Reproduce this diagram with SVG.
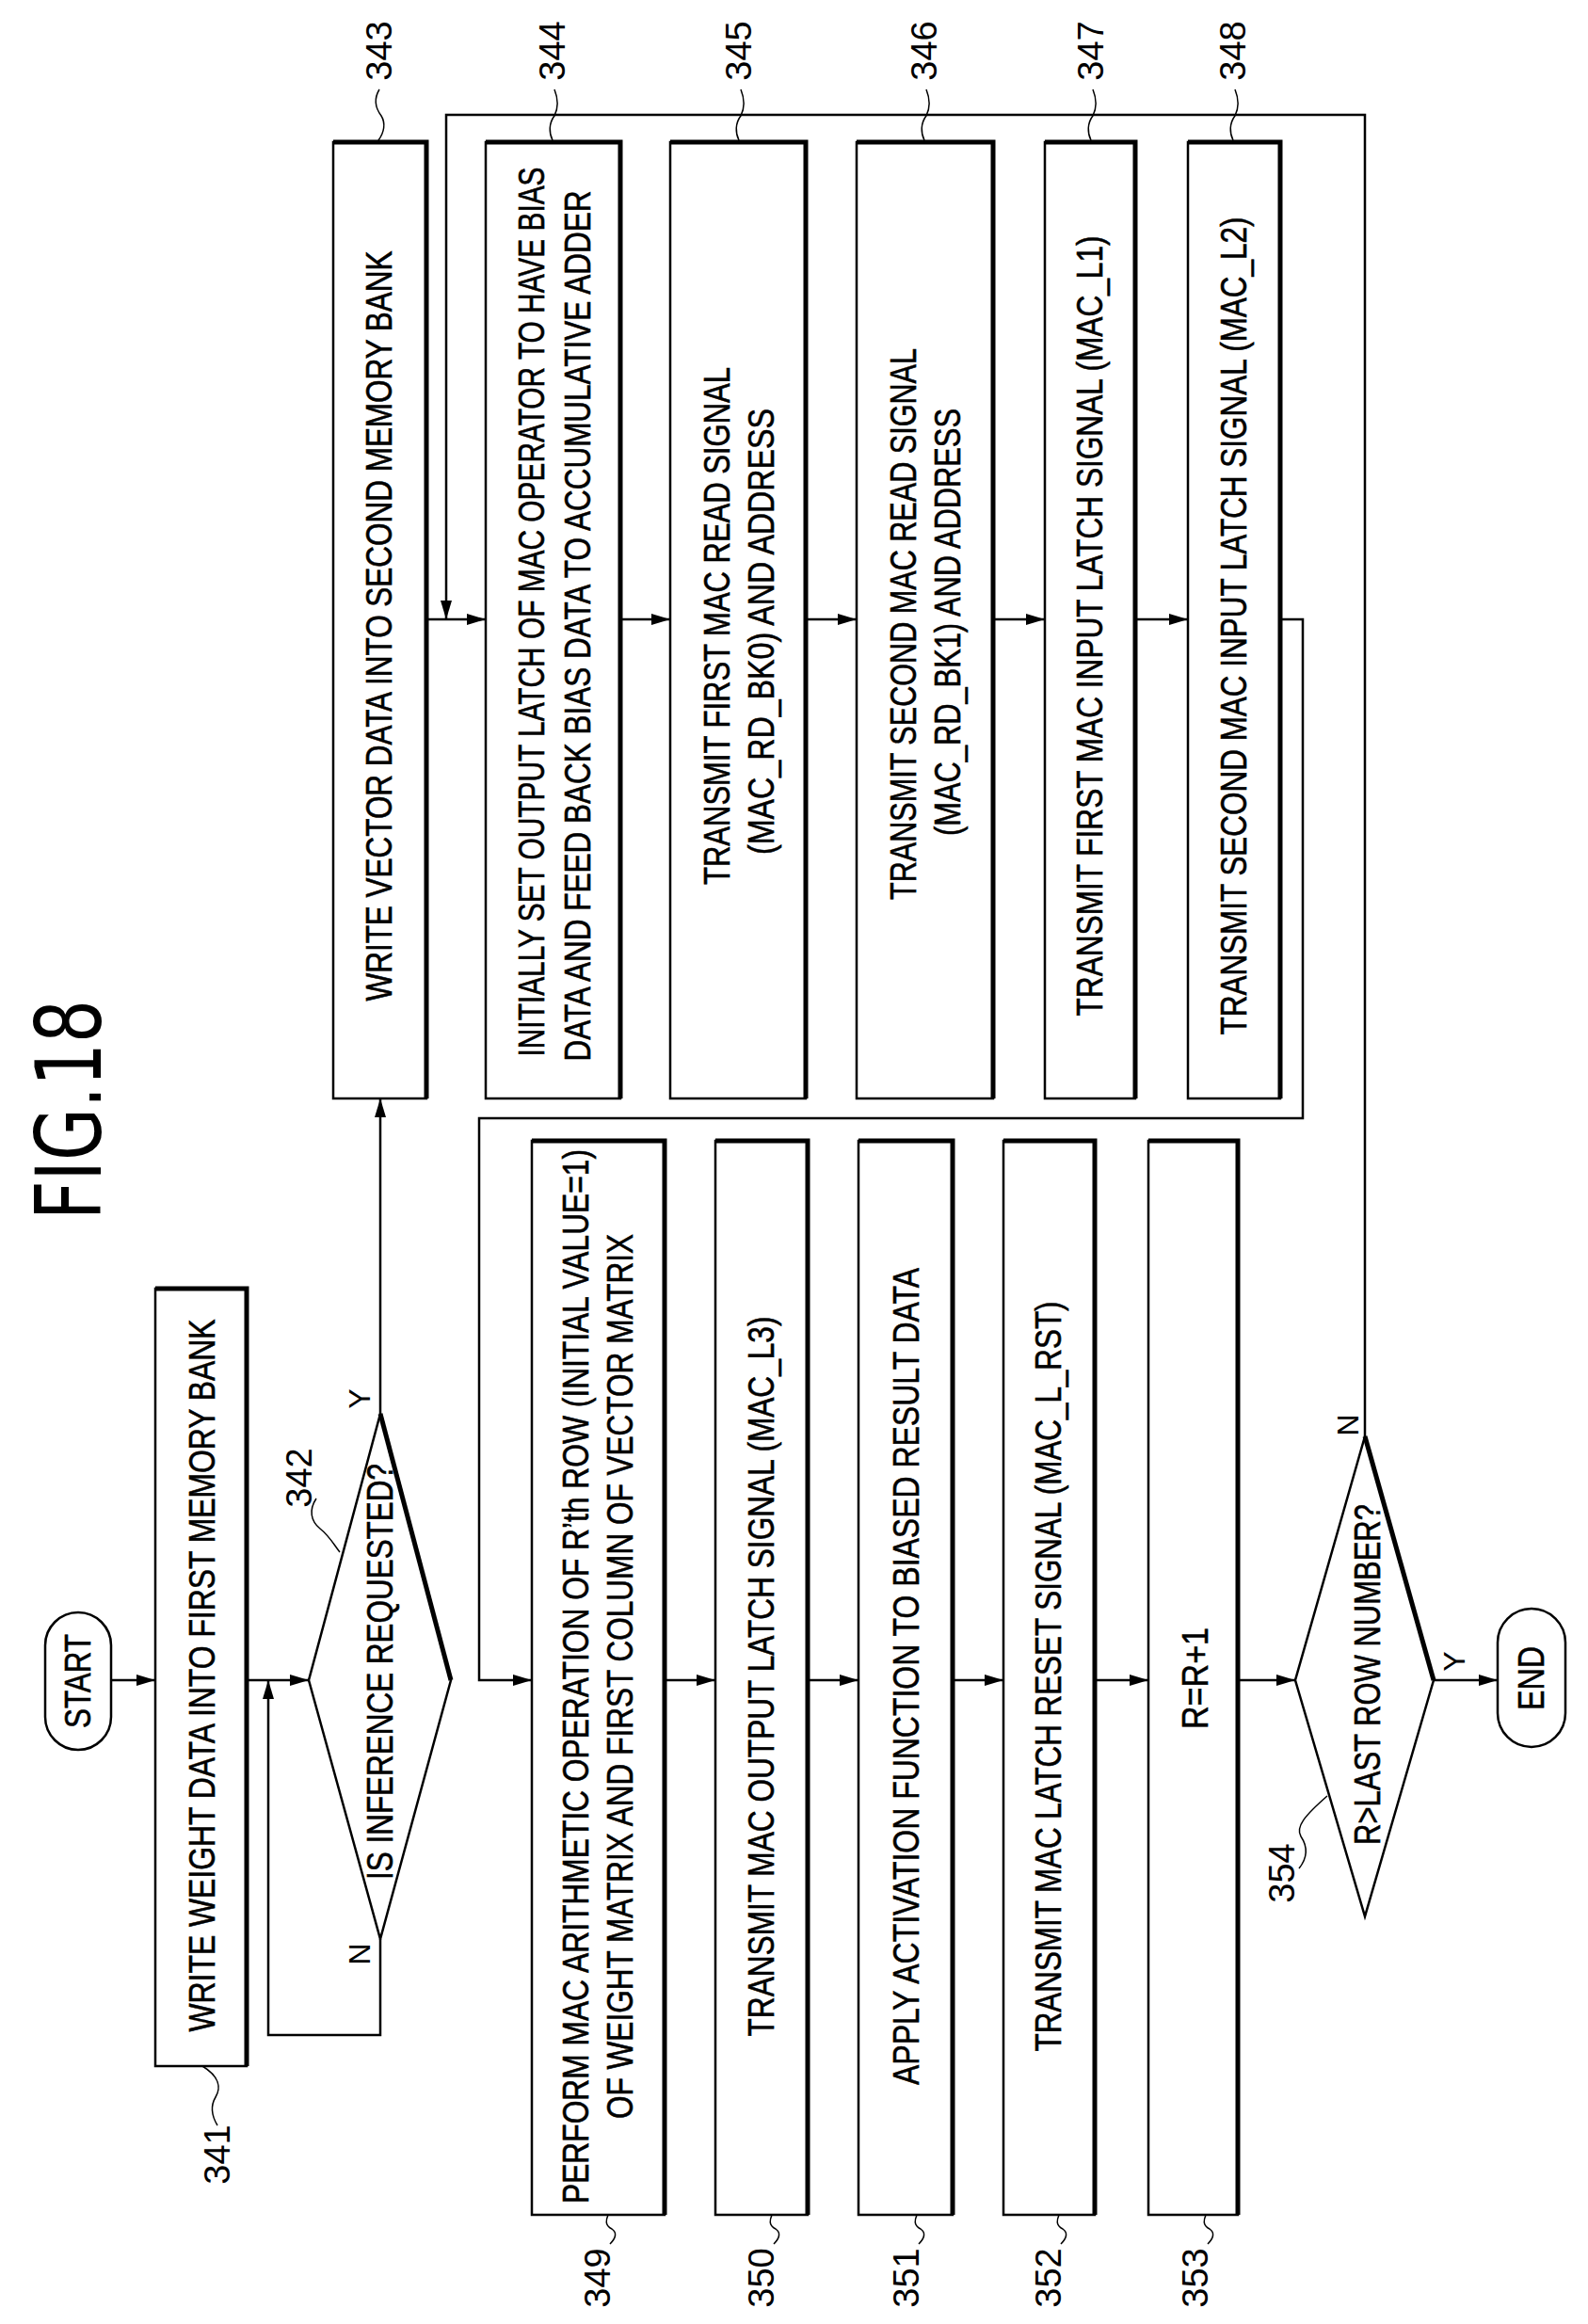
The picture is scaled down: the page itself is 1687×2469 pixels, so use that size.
<svg xmlns="http://www.w3.org/2000/svg" width="1687" height="2469" viewBox="0 0 1687 2469">
<style>
.b{fill:#fff;stroke:#000;stroke-width:2.5}
.k{stroke:#000;stroke-width:5;fill:none}
.l{stroke:#000;stroke-width:2.5;fill:none}
.q{stroke:#000;stroke-width:1.5;fill:none}
.t{font-family:"Liberation Sans",Arial,sans-serif;font-size:38px;text-anchor:middle;dominant-baseline:central;fill:#000;stroke:#000;stroke-width:0.6}
.n{font-family:"Liberation Sans",Arial,sans-serif;font-size:38px;text-anchor:middle;dominant-baseline:central;fill:#000}
</style>
<defs>
<marker id="a" viewBox="0 0 20 12" refX="20" refY="6" markerWidth="20" markerHeight="12" markerUnits="userSpaceOnUse" orient="auto"><path d="M0,0 L20,6 L0,12 Z" fill="#000"/></marker>
</defs>
<text class="n" transform="translate(74,1179) rotate(-90)" style="font-family:'DejaVu Sans',sans-serif;font-size:96px" textLength="234" lengthAdjust="spacingAndGlyphs">FIG.18</text>

<g id="connectors">
<path class="l" d="M118,1785 H165" marker-end="url(#a)"/>
<path class="l" d="M262,1785 H328" marker-end="url(#a)"/>
<path class="l" d="M404,2060 V2162 H285 V1785" marker-end="url(#a)"/>
<path class="l" d="M404,1502 V1167" marker-end="url(#a)"/>
<path class="l" d="M453,658 H516" marker-end="url(#a)"/>
<path class="l" d="M1450,1526 V122 H474 V658" marker-end="url(#a)"/>
<path class="l" d="M659,658 H712" marker-end="url(#a)"/>
<path class="l" d="M856,658 H910" marker-end="url(#a)"/>
<path class="l" d="M1055,658 H1110" marker-end="url(#a)"/>
<path class="l" d="M1206,658 H1262" marker-end="url(#a)"/>
<path class="l" d="M1360,658 H1384 V1188 H509 V1785 H565" marker-end="url(#a)"/>
<path class="l" d="M706,1785 H760" marker-end="url(#a)"/>
<path class="l" d="M858,1785 H912" marker-end="url(#a)"/>
<path class="l" d="M1012,1785 H1066" marker-end="url(#a)"/>
<path class="l" d="M1163,1785 H1220" marker-end="url(#a)"/>
<path class="l" d="M1315,1785 H1376" marker-end="url(#a)"/>
<path class="l" d="M1523,1785 H1591" marker-end="url(#a)"/>
<text class="n" x="382" y="1486" transform="rotate(-90 382 1486)" style="font-size:32px">Y</text>
<text class="n" x="382" y="2076" transform="rotate(-90 382 2076)" style="font-size:32px">N</text>
<text class="n" x="1432" y="1514" transform="rotate(-90 1432 1514)" style="font-size:32px">N</text>
<text class="n" x="1545" y="1765" transform="rotate(-90 1545 1765)" style="font-size:32px">Y</text>
</g>

<g id="start">
<rect class="b" x="48" y="1713" width="70" height="146" rx="35"/>
<text class="t" transform="translate(83,1786) rotate(-90)" textLength="100" lengthAdjust="spacingAndGlyphs">START</text>
</g>

<g id="n341">
<rect class="b" x="165" y="1369" width="97" height="826"/>
<path class="k" d="M165,1369 H262 V2195"/>
<text class="t" transform="translate(215,1780) rotate(-90)" textLength="757" lengthAdjust="spacingAndGlyphs">WRITE WEIGHT DATA INTO FIRST MEMORY BANK</text>
<text class="n" transform="translate(231,2289) rotate(-90)">341</text>
<path class="q" d="M231,2258 c-6,-10 -8,-20 -2,-30 c6,-10 4,-22 -14,-33"/>
</g>

<g id="n342">
<polygon class="b" points="404,1502 479,1785 404,2060 328,1785"/>
<path class="k" d="M404,1502 L479,1785"/>
<text class="t" transform="translate(404,1776) rotate(-90)" textLength="442" lengthAdjust="spacingAndGlyphs">IS INFERENCE REQUESTED?</text>
<text class="n" transform="translate(318,1570) rotate(-90)">342</text>
<path class="q" d="M336,1592 c-8,12 -6,24 4,32 c10,8 14,16 21,25"/>
</g>

<g id="n343">
<rect class="b" x="354" y="151" width="99" height="1016"/>
<path class="k" d="M354,151 H453 V1167"/>
<text class="t" transform="translate(403,665) rotate(-90)" textLength="797" lengthAdjust="spacingAndGlyphs">WRITE VECTOR DATA INTO SECOND MEMORY BANK</text>
<text class="n" transform="translate(403,54) rotate(-90)">343</text>
<path class="q" d="M403,95 c-6,10 -4,20 2,28 c5,8 3,18 -3,26"/>
</g>

<g id="n344">
<rect class="b" x="516" y="151" width="143" height="1016"/>
<path class="k" d="M516,151 H659 V1167"/>
<text class="t" transform="translate(565,650) rotate(-90)" textLength="945" lengthAdjust="spacingAndGlyphs">INITIALLY SET OUTPUT LATCH OF MAC OPERATOR TO HAVE BIAS</text>
<text class="t" transform="translate(614,665) rotate(-90)" textLength="925" lengthAdjust="spacingAndGlyphs">DATA AND FEED BACK BIAS DATA TO ACCUMULATIVE ADDER</text>
<text class="n" transform="translate(587,54) rotate(-90)">344</text>
<path class="q" d="M589,95 c4,10 4,20 0,28 c-6,8 -6,18 -2,26"/>
</g>

<g id="n345">
<rect class="b" x="712" y="151" width="144" height="1016"/>
<path class="k" d="M712,151 H856 V1167"/>
<text class="t" transform="translate(762,665) rotate(-90)" textLength="550" lengthAdjust="spacingAndGlyphs">TRANSMIT FIRST MAC READ SIGNAL</text>
<text class="t" transform="translate(809,671) rotate(-90)" textLength="474" lengthAdjust="spacingAndGlyphs">(MAC_RD_BK0) AND ADDRESS</text>
<text class="n" transform="translate(785,54) rotate(-90)">345</text>
<path class="q" d="M787,95 c4,10 4,20 0,28 c-6,8 -6,18 -2,26"/>
</g>

<g id="n346">
<rect class="b" x="910" y="151" width="145" height="1016"/>
<path class="k" d="M910,151 H1055 V1167"/>
<text class="t" transform="translate(960,663) rotate(-90)" textLength="586" lengthAdjust="spacingAndGlyphs">TRANSMIT SECOND MAC READ SIGNAL</text>
<text class="t" transform="translate(1007,661) rotate(-90)" textLength="454" lengthAdjust="spacingAndGlyphs">(MAC_RD_BK1) AND ADDRESS</text>
<text class="n" transform="translate(982,54) rotate(-90)">346</text>
<path class="q" d="M984,95 c4,10 4,20 0,28 c-6,8 -6,18 -2,26"/>
</g>

<g id="n347">
<rect class="b" x="1110" y="151" width="96" height="1016"/>
<path class="k" d="M1110,151 H1206 V1167"/>
<text class="t" transform="translate(1158,665) rotate(-90)" textLength="829" lengthAdjust="spacingAndGlyphs">TRANSMIT FIRST MAC INPUT LATCH SIGNAL (MAC_L1)</text>
<text class="n" transform="translate(1159,54) rotate(-90)">347</text>
<path class="q" d="M1161,95 c4,10 4,20 0,28 c-6,8 -6,18 -2,26"/>
</g>

<g id="n348">
<rect class="b" x="1262" y="151" width="98" height="1016"/>
<path class="k" d="M1262,151 H1360 V1167"/>
<text class="t" transform="translate(1311,665) rotate(-90)" textLength="869" lengthAdjust="spacingAndGlyphs">TRANSMIT SECOND MAC INPUT LATCH SIGNAL (MAC_L2)</text>
<text class="n" transform="translate(1310,54) rotate(-90)">348</text>
<path class="q" d="M1312,95 c4,10 4,20 0,28 c-6,8 -6,18 -2,26"/>
</g>

<g id="n349">
<rect class="b" x="565" y="1212" width="141" height="1141"/>
<path class="k" d="M565,1212 H706 V2353"/>
<text class="t" transform="translate(612,1781) rotate(-90)" textLength="1120" lengthAdjust="spacingAndGlyphs">PERFORM MAC ARITHMETIC OPERATION OF R’th ROW (INITIAL VALUE=1)</text>
<text class="t" transform="translate(659,1781) rotate(-90)" textLength="940" lengthAdjust="spacingAndGlyphs">OF WEIGHT MATRIX AND FIRST COLUMN OF VECTOR MATRIX</text>
<text class="n" transform="translate(635,2420) rotate(-90)">349</text>
<path class="q" d="M648,2384 c6,-6 8,-12 2,-16 c-8,-4 -6,-10 -4,-15"/>
</g>

<g id="n350">
<rect class="b" x="760" y="1212" width="98" height="1141"/>
<path class="k" d="M760,1212 H858 V2353"/>
<text class="t" transform="translate(809,1781) rotate(-90)" textLength="765" lengthAdjust="spacingAndGlyphs">TRANSMIT MAC OUTPUT LATCH SIGNAL (MAC_L3)</text>
<text class="n" transform="translate(809,2420) rotate(-90)">350</text>
<path class="q" d="M822,2384 c6,-6 8,-12 2,-16 c-8,-4 -6,-10 -4,-15"/>
</g>

<g id="n351">
<rect class="b" x="912" y="1212" width="100" height="1141"/>
<path class="k" d="M912,1212 H1012 V2353"/>
<text class="t" transform="translate(963,1781) rotate(-90)" textLength="868" lengthAdjust="spacingAndGlyphs">APPLY ACTIVATION FUNCTION TO BIASED RESULT DATA</text>
<text class="n" transform="translate(963,2420) rotate(-90)">351</text>
<path class="q" d="M976,2384 c6,-6 8,-12 2,-16 c-8,-4 -6,-10 -4,-15"/>
</g>

<g id="n352">
<rect class="b" x="1066" y="1212" width="97" height="1141"/>
<path class="k" d="M1066,1212 H1163 V2353"/>
<text class="t" transform="translate(1114,1781) rotate(-90)" textLength="797" lengthAdjust="spacingAndGlyphs">TRANSMIT MAC LATCH RESET SIGNAL (MAC_L_RST)</text>
<text class="n" transform="translate(1114,2420) rotate(-90)">352</text>
<path class="q" d="M1127,2384 c6,-6 8,-12 2,-16 c-8,-4 -6,-10 -4,-15"/>
</g>

<g id="n353">
<rect class="b" x="1220" y="1212" width="95" height="1141"/>
<path class="k" d="M1220,1212 H1315 V2353"/>
<text class="t" transform="translate(1270,1783) rotate(-90)" textLength="108" lengthAdjust="spacingAndGlyphs">R=R+1</text>
<text class="n" transform="translate(1270,2420) rotate(-90)">353</text>
<path class="q" d="M1283,2384 c6,-6 8,-12 2,-16 c-8,-4 -6,-10 -4,-15"/>
</g>

<g id="n354">
<polygon class="b" points="1450,1526 1523,1785 1450,2036 1376,1785"/>
<path class="k" d="M1450,1526 L1523,1785"/>
<text class="t" transform="translate(1453,1779) rotate(-90)" textLength="362" lengthAdjust="spacingAndGlyphs">R&gt;LAST ROW NUMBER?</text>
<text class="n" transform="translate(1362,1990) rotate(-90)">354</text>
<path class="q" d="M1380,1985 c8,-10 10,-22 2,-34 c-6,-10 4,-22 28,-43"/>
</g>

<g id="end">
<rect class="b" x="1591" y="1709" width="72" height="147" rx="36"/>
<text class="t" transform="translate(1627,1783) rotate(-90)" textLength="68" lengthAdjust="spacingAndGlyphs">END</text>
</g>
</svg>
